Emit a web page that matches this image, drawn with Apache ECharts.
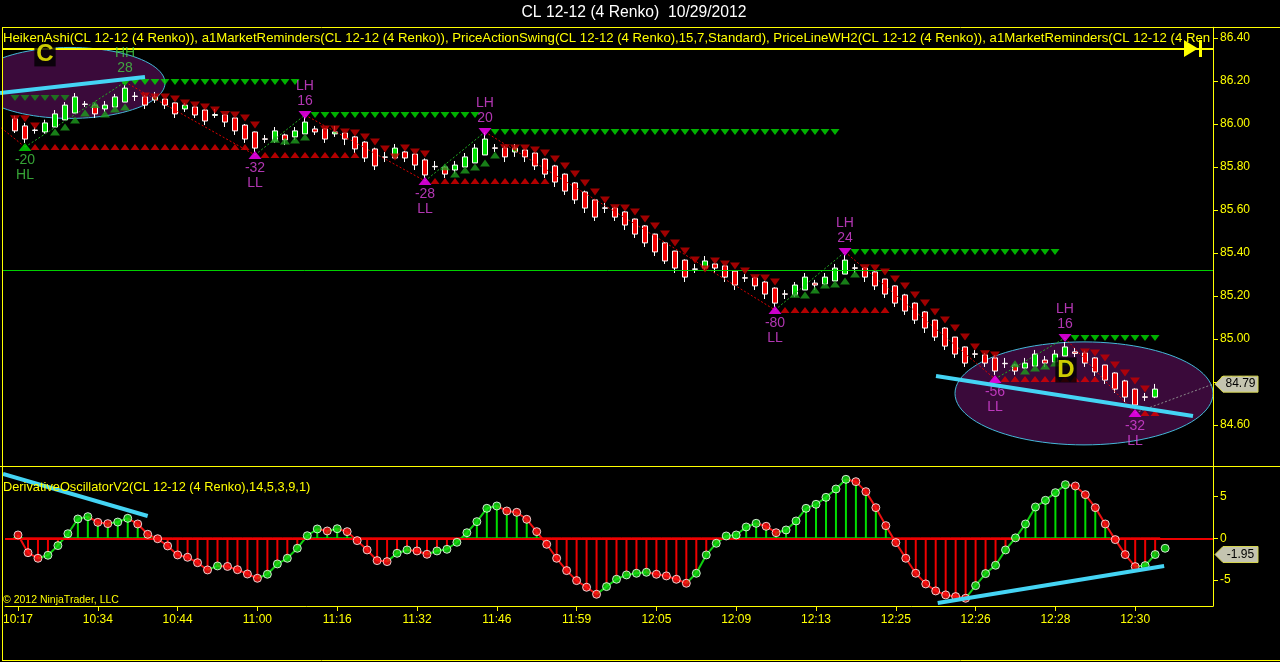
<!DOCTYPE html>
<html><head><meta charset="utf-8">
<script src="https://cdn.jsdelivr.net/npm/echarts@6/dist/echarts.min.js"></script>
<style>html,body{margin:0;padding:0;background:#000;}#c{width:1280px;height:662px;}</style>
</head><body><div id="c"></div>
<script>
// ---------- data ----------
const timeLabels = ['10:17','10:34','10:44','11:00','11:16','11:32','11:46','11:59','12:05','12:09','12:13','12:25','12:26','12:28','12:30'];
const timeTickBars = [0,8,16,24,32,40,48,56,64,72,80,88,96,104,112];
const oscTicks = [-5,0,5];

const haOpen = [86.024,85.991,85.972,85.963,85.986,86.019,86.051,86.093,86.088,86.070,86.079,86.102,86.130,86.126,86.112,86.116,86.098,86.070,86.079,86.065,
86.040,86.042,86.028,85.995,85.963,85.931,85.921,85.949,85.940,85.954,85.977,85.977,85.954,85.958,85.940,85.916,85.884,85.847,85.842,85.870,
85.860,85.833,85.803,85.800,85.786,85.800,85.819,85.856,85.889,85.888,85.870,85.879,85.865,85.837,85.805,85.767,85.726,85.684,85.647,85.610,
85.609,85.591,85.558,85.526,85.488,85.447,85.409,85.367,85.326,85.330,85.349,85.340,85.316,85.285,85.284,85.265,85.237,85.210,85.205,85.228,
85.260,85.256,85.270,85.302,85.331,85.330,85.312,85.279,85.247,85.205,85.167,85.126,85.088,85.051,85.009,84.963,84.931,84.926,84.912,84.887,
84.879,84.865,84.874,84.902,84.893,84.921,84.940,84.935,84.912,84.879,84.842,84.805,84.767,84.731,84.730];
const haClose = [85.968,85.930,85.970,86.005,86.047,86.088,86.126,86.091,86.047,86.088,86.126,86.167,86.128,86.088,86.126,86.088,86.047,86.088,86.042,86.014,
86.044,86.009,85.968,85.930,85.888,85.929,85.968,85.926,85.968,86.009,85.963,85.930,85.963,85.930,85.884,85.842,85.805,85.845,85.888,85.842,
85.809,85.763,85.801,85.767,85.809,85.847,85.888,85.930,85.887,85.847,85.888,85.847,85.805,85.767,85.730,85.688,85.647,85.609,85.567,85.608,
85.567,85.530,85.488,85.447,85.405,85.363,85.330,85.288,85.324,85.363,85.330,85.288,85.251,85.283,85.247,85.209,85.167,85.208,85.251,85.288,
85.251,85.288,85.330,85.367,85.329,85.288,85.247,85.209,85.167,85.130,85.088,85.051,85.009,84.967,84.930,84.888,84.929,84.888,84.851,84.885,
84.851,84.888,84.930,84.888,84.930,84.963,84.933,84.888,84.847,84.809,84.767,84.730,84.693,84.729,84.767];
const haLow = [85.958,85.912,85.955,85.955,85.986,86.019,86.051,86.079,86.028,86.056,86.079,86.102,86.107,86.070,86.098,86.070,86.028,86.056,86.028,85.995,
86.028,85.986,85.949,85.912,85.870,85.912,85.912,85.902,85.926,85.954,85.949,85.912,85.940,85.902,85.865,85.823,85.786,85.823,85.842,85.823,
85.786,85.749,85.786,85.749,85.770,85.800,85.819,85.856,85.870,85.823,85.847,85.823,85.786,85.749,85.707,85.670,85.628,85.586,85.549,85.586,
85.549,85.507,85.470,85.428,85.386,85.349,85.307,85.265,85.307,85.320,85.307,85.265,85.228,85.265,85.228,85.186,85.149,85.186,85.195,85.228,
85.228,85.250,85.270,85.302,85.307,85.265,85.228,85.191,85.149,85.112,85.070,85.028,84.991,84.949,84.912,84.870,84.912,84.870,84.833,84.865,
84.833,84.860,84.874,84.870,84.893,84.921,84.916,84.870,84.828,84.791,84.749,84.707,84.679,84.712,84.725];
const haHigh = [86.038,86.005,85.986,86.020,86.065,86.102,86.144,86.107,86.098,86.107,86.140,86.181,86.149,86.135,86.149,86.120,86.100,86.098,86.085,86.070,
86.070,86.045,86.030,86.000,85.965,85.949,85.986,85.955,85.986,86.033,85.991,85.980,85.991,85.960,85.945,85.920,85.890,85.870,85.907,85.875,
85.865,85.840,85.828,85.805,85.828,85.865,85.907,85.958,85.907,85.898,85.907,85.884,85.870,85.840,85.810,85.770,85.730,85.690,85.650,85.633,
85.615,85.595,85.560,85.530,85.490,85.450,85.410,85.370,85.349,85.386,85.355,85.345,85.320,85.302,85.290,85.270,85.240,85.228,85.265,85.307,
85.275,85.307,85.349,85.391,85.349,85.335,85.315,85.280,85.250,85.210,85.170,85.130,85.090,85.055,85.010,84.965,84.949,84.935,84.926,84.912,
84.885,84.912,84.949,84.921,84.949,84.986,84.958,84.945,84.915,84.880,84.845,84.810,84.770,84.749,84.791];

const oscValues = [0.40,-1.73,-2.40,-2.04,-0.88,0.55,2.32,2.60,1.92,1.76,1.95,2.40,1.72,0.48,-0.05,-0.92,-2.00,-2.28,-2.93,-3.80,
-3.32,-3.38,-3.77,-4.29,-4.80,-4.32,-3.08,-2.40,-1.20,0.31,1.12,0.88,1.15,0.80,-0.28,-1.40,-2.68,-2.80,-1.80,-1.40,
-1.52,-1.92,-1.52,-1.32,-0.48,0.67,2.00,3.60,3.88,3.28,3.12,2.28,0.80,-0.72,-2.40,-3.88,-5.08,-5.88,-6.72,-5.80,
-4.92,-4.40,-4.20,-4.08,-4.32,-4.52,-4.92,-5.40,-4.20,-2.00,-0.60,0.28,0.40,1.36,1.80,1.44,0.67,1.00,2.08,3.60,
4.08,4.92,5.92,7.08,6.80,5.60,3.68,1.52,-0.52,-2.40,-4.20,-5.48,-6.32,-6.80,-7.00,-7.20,-5.68,-4.24,-3.24,-1.40,
0.05,1.72,3.76,4.56,5.48,6.44,6.28,5.24,3.68,1.72,-0.16,-1.96,-3.40,-3.28,-1.95];
const oscExtraBar = [115];
const oscExtraValue = [-1.20];

const lastPrice = 84.79;
const lastOsc = -1.95;
const priceLineLevels = [86.35, 85.32];

// swing points
const swingHighBars = [11,29,47,83,105];
const swingHighPrices = [86.195,86.042,85.963,85.405,85.005];
const swingHighTags = ['HH','LH','LH','LH','LH'];
const swingHighNums = ['28','16','20','24','16'];
const swingLowBars = [1,24,41,76,98,112];
const swingLowPrices = [85.893,85.856,85.735,85.135,84.814,84.656];
const swingLowTags = ['HL','LL','LL','LL','LL','LL'];
const swingLowNums = ['-20','-32','-28','-80','-56','-32'];
const zigzagBars = [-2,1,11,24,29,41,47,76,83,98,105,112];
const zigzagPrices = [86.005,85.893,86.195,85.856,86.042,85.735,85.963,85.135,85.405,84.814,85.005,84.656];
const currentBar = 119.8;

// level rows [fromBar, toBar, price]
const resistanceRows = [[12,28,86.195],[30,46,86.042],[48,82,85.963],[84,104,85.405],[106,114,85.005]];
const supportRows = [[2,23,85.893],[25,34,85.856],[42,53,85.735],[77,87,85.135],[99,108,84.814],[113,114,84.656]];
const oldResistanceRows = [[0,5,86.121]];
// trailing marker bar ranges
const trailDownRanges = [[0,2],[13,24],[31,41],[49,76],[85,98],[107,113]];
const trailUpRanges = [[4,11],[26,29],[43,48],[78,84],[100,105]];

// drawing annotations
const ellipseCenterBar = [5.5,106.9];
const ellipseCenterPrice = [86.191,84.747];
const ellipseRadiusBars = [9.5,12.9];
const ellipseRadiusPrice = [0.165,0.2395];
const priceTrendlines = [[[-1.5,86.144],[13,86.219]],[[92.1,84.828],[117.8,84.642]]];
const oscTrendlines = [[[-1.5,7.72],[13,2.68]],[[92.2,-7.76],[114.9,-3.33]]];
const markerLetters = ['C','D'];
const markerLetterBars = [3,105.1];
const markerLetterPrices = [86.326,84.856];

// ---------- chart ----------
const FONT = 'Liberation Sans';
const YEL = '#ffff00';
const GRID_L = 2, GRID_R = 67;
const xMin = -1.3, xMax = 119.8;

const chart = echarts.init(document.getElementById('c'));

const candleData = haOpen.map((o,i)=>[i,o,haClose[i],haLow[i],haHigh[i]]);
function rowPoints(rows){const pts=[];rows.forEach(([a,b,p])=>{for(let i=a;i<=b;i++)pts.push([i,p]);});return pts;}
const topOf = i => Math.max(haOpen[i],haClose[i]);
const botOf = i => Math.min(haOpen[i],haClose[i]);
function trail(ranges, fn){const pts=[];ranges.forEach(([a,b])=>{for(let i=a;i<=b;i++)pts.push([i,fn(Math.max(i-1,0))]);});return pts;}

const zigLines = [];
for(let k=0;k<zigzagBars.length-1;k++){
  const up = zigzagPrices[k+1]>zigzagPrices[k];
  zigLines.push({coords:[[zigzagBars[k],zigzagPrices[k]],[zigzagBars[k+1],zigzagPrices[k+1]]],lineStyle:{color: up?'#22b022':'#dd0000'}});
}
zigLines.push({coords:[[zigzagBars[zigzagBars.length-1],zigzagPrices[zigzagPrices.length-1]],[currentBar,lastPrice]],lineStyle:{color:'#8a8a8a'}});

const highMarks = swingHighBars.map((b,i)=>({value:[b,swingHighPrices[i]],tag:swingHighTags[i],num:swingHighNums[i],
  itemStyle:{color: swingHighTags[i]==='HH'?'#00dd00':'#ff00ff'},
  label:{color: swingHighTags[i]==='HH'?'#44cc44':'#dd44dd'}}));
const lowMarks = swingLowBars.map((b,i)=>({value:[b,swingLowPrices[i]],tag:swingLowTags[i],num:swingLowNums[i],
  itemStyle:{color: swingLowTags[i]==='HL'?'#00dd00':'#ff00ff'},
  label:{color: swingLowTags[i]==='HL'?'#44cc44':'#dd44dd'}}));

const ellipseData = ellipseCenterBar.map((b,i)=>[b,ellipseCenterPrice[i],ellipseRadiusBars[i],ellipseRadiusPrice[i]]);

const oscStemData = oscValues.map((v,i)=>[i,v]);
const oscSegData = oscValues.map((v,i)=>[i,v,i>0?oscValues[i-1]:v]).slice(1);
const oscDotData = oscValues.map((v,i)=>({value:[i,v],itemStyle:{color:(i===0||v<oscValues[i-1])?'#ff1010':'#10e010'}}));
oscExtraBar.forEach((b,k)=>oscDotData.push({value:[b,oscExtraValue[k]],itemStyle:{color:'#10e010'}}));

const txt = (id,x,y,text,size,color,align,weight)=>({type:'text',id,x,y,z:50,silent:true,
  style:{text,fill:color,font:(weight||'normal')+' '+size+'px "'+FONT+'"',align:align||'left',verticalAlign:'middle'}});
const hline = (id,x1,x2,y,color,w)=>({type:'line',id,z:40,silent:true,shape:{x1,y1:y,x2,y2:y},style:{stroke:color,lineWidth:w||1}});
const vline = (id,x,y1,y2,color,w)=>({type:'line',id,z:40,silent:true,shape:{x1:x,y1,x2:x,y2},style:{stroke:color,lineWidth:w||1}});

const option = {
  backgroundColor:'#000',
  animation:false,
  textStyle:{fontFamily:FONT},
  grid:[
    {left:GRID_L,right:GRID_R,top:27.25,height:440.75},
    {left:GRID_L,right:GRID_R,top:467,height:139}
  ],
  xAxis:[
    {type:'value',gridIndex:0,min:xMin,max:xMax,show:false},
    {type:'value',gridIndex:1,min:xMin,max:xMax,
     axisLine:{show:true,onZero:false,lineStyle:{color:YEL,width:1}},
     axisTick:{show:true,inside:false,length:5,lineStyle:{color:YEL},customValues:timeTickBars},
     axisLabel:{show:true,color:YEL,fontSize:12,fontFamily:FONT,margin:8,customValues:timeTickBars,
       formatter:v=>{const k=timeTickBars.indexOf(Math.round(v));return k>=0?timeLabels[k]:'';}},
     splitLine:{show:false}}
  ],
  yAxis:[
    {type:'value',gridIndex:0,position:'right',min:84.4,max:86.45,interval:0.2,
     axisLine:{show:true,onZero:false,lineStyle:{color:YEL}},
     axisTick:{show:true,inside:false,length:5,lineStyle:{color:YEL}},
     axisLabel:{color:YEL,fontSize:12,fontFamily:FONT,margin:7,showMinLabel:false,showMaxLabel:false,formatter:v=>v.toFixed(2)},
     splitLine:{show:false}},
    {type:'value',gridIndex:1,position:'right',min:-8.13,max:8.56,
     axisLine:{show:true,onZero:false,lineStyle:{color:YEL}},
     axisTick:{show:true,inside:false,length:5,lineStyle:{color:YEL},customValues:oscTicks},
     axisLabel:{color:YEL,fontSize:12,fontFamily:FONT,margin:7,customValues:oscTicks,formatter:v=>String(Math.round(v))},
     splitLine:{show:false}}
  ],
  series:[
    {name:'ellipses',type:'custom',xAxisIndex:0,yAxisIndex:0,z:1,clip:true,silent:true,
     data:ellipseData,encode:{x:0,y:1},
     renderItem:(params,api)=>{
       const c=api.coord([api.value(0),api.value(1)]);
       const s=api.size([api.value(2),api.value(3)]);
       const pts=[];for(let k=0;k<96;k++){const t=k/96*Math.PI*2;pts.push([c[0]+s[0]*Math.cos(t),c[1]+s[1]*Math.sin(t)]);}
       return {type:'polygon',shape:{points:pts},style:{fill:'#3a0a3a',stroke:'#45b8d8',lineWidth:1}};
     }},
    {name:'priceLines',type:'line',xAxisIndex:0,yAxisIndex:0,z:2,data:[],silent:true,
     markLine:{silent:true,symbol:'none',label:{show:false},animation:false,
       data:[{yAxis:priceLineLevels[0],lineStyle:{color:YEL,width:2,type:'solid'}},
             {yAxis:priceLineLevels[1],lineStyle:{color:'#00d000',width:1,type:'solid'}}]}},
    {name:'HeikenAshi',type:'candlestick',xAxisIndex:0,yAxisIndex:0,z:3,barWidth:6,silent:true,
     data:candleData,
     itemStyle:{color:'#00e000',color0:'#f00000',borderColor:'#ffffff',borderColor0:'#ffffff',borderWidth:1}},
    {name:'zigzag',type:'lines',coordinateSystem:'cartesian2d',xAxisIndex:0,yAxisIndex:0,z:4,silent:true,
     polyline:false,lineStyle:{width:1,type:[2,2],opacity:1},data:zigLines},
    {name:'oldRes',type:'scatter',xAxisIndex:0,yAxisIndex:0,z:5,silent:true,symbol:'triangle',symbolRotate:180,symbolSize:[9,6],
     itemStyle:{color:'#1a8a1a'},data:rowPoints(oldResistanceRows)},
    {name:'trailDown',type:'scatter',xAxisIndex:0,yAxisIndex:0,z:5,silent:true,symbol:'triangle',symbolRotate:180,symbolSize:[10,7],
     itemStyle:{color:'#c80000'},data:trail(trailDownRanges,topOf)},
    {name:'trailUp',type:'scatter',xAxisIndex:0,yAxisIndex:0,z:5,silent:true,symbol:'triangle',symbolSize:[10,7],
     itemStyle:{color:'#1e9e1e'},data:trail(trailUpRanges,botOf)},
    {name:'resRows',type:'scatter',xAxisIndex:0,yAxisIndex:0,z:5,silent:true,symbol:'triangle',symbolRotate:180,symbolSize:[9,6],
     itemStyle:{color:'#00dd00'},data:rowPoints(resistanceRows)},
    {name:'supRows',type:'scatter',xAxisIndex:0,yAxisIndex:0,z:5,silent:true,symbol:'triangle',symbolSize:[9,6],
     itemStyle:{color:'#e00000'},data:rowPoints(supportRows)},
    {name:'swingHighs',type:'scatter',xAxisIndex:0,yAxisIndex:0,z:6,silent:true,symbol:'triangle',symbolRotate:180,symbolSize:[13,8],
     data:highMarks,
     label:{show:true,position:'top',distance:2,fontSize:14,lineHeight:15,fontFamily:FONT,formatter:p=>p.data.tag+'\n'+p.data.num}},
    {name:'swingLows',type:'scatter',xAxisIndex:0,yAxisIndex:0,z:6,silent:true,symbol:'triangle',symbolSize:[13,8],
     data:lowMarks,
     label:{show:true,position:'bottom',distance:2,fontSize:14,lineHeight:15,fontFamily:FONT,formatter:p=>p.data.num+'\n'+p.data.tag}},
    {name:'trendTop',type:'lines',coordinateSystem:'cartesian2d',xAxisIndex:0,yAxisIndex:0,z:8,silent:true,
     lineStyle:{width:4,color:'#44d4f4',opacity:1},data:priceTrendlines.map(c=>({coords:c}))},
    {name:'letters',type:'scatter',xAxisIndex:0,yAxisIndex:0,z:9,silent:true,symbolSize:0,
     data:markerLetters.map((t,i)=>({name:t,value:[markerLetterBars[i],markerLetterPrices[i]]})),
     label:{show:true,position:'inside',formatter:p=>p.name,color:YEL,fontSize:24,fontWeight:'bold',fontFamily:FONT,
       backgroundColor:'#000',padding:[1,2,0,2]}},
    // oscillator
    {name:'oscStems',type:'custom',xAxisIndex:1,yAxisIndex:1,z:3,silent:true,clip:true,
     data:oscStemData,encode:{x:0,y:1},
     markLine:{silent:true,symbol:'none',label:{show:false},data:[{yAxis:0,lineStyle:{color:'#ee0000',width:2,type:'solid'}}]},
     renderItem:(params,api)=>{
       const x=api.value(0),v=api.value(1);
       const p0=api.coord([x,0]),p1=api.coord([x,v]);
       const col=v>=0?'#00dd00':'#ee0000';
       return {type:'group',children:[
         {type:'line',shape:{x1:p0[0]-5,y1:p0[1],x2:p0[0]+5,y2:p0[1]},style:{stroke:col,lineWidth:2}},
         {type:'line',shape:{x1:p0[0],y1:p0[1],x2:p1[0],y2:p1[1]},style:{stroke:col,lineWidth:2}}
       ]};
     }},
    {name:'oscLine',type:'custom',xAxisIndex:1,yAxisIndex:1,z:4,silent:true,clip:true,
     data:oscSegData,encode:{x:0,y:1},
     renderItem:(params,api)=>{
       const x=api.value(0),v=api.value(1),pv=api.value(2);
       const a=api.coord([x-1,pv]),b=api.coord([x,v]);
       return {type:'line',shape:{x1:a[0],y1:a[1],x2:b[0],y2:b[1]},style:{stroke:v<pv?'#ee1010':'#10d010',lineWidth:2}};
     }},
    {name:'oscDots',type:'scatter',xAxisIndex:1,yAxisIndex:1,z:5,silent:true,symbol:'circle',symbolSize:8,
     itemStyle:{borderColor:'#ffffff',borderWidth:1},data:oscDotData},
    {name:'trendOsc',type:'lines',coordinateSystem:'cartesian2d',xAxisIndex:1,yAxisIndex:1,z:8,silent:true,
     lineStyle:{width:4,color:'#44d4f4',opacity:1},data:oscTrendlines.map(c=>({coords:c}))}
  ],
  graphic:[
    txt('title',634,13,'CL 12-12 (4 Renko)  10/29/2012',15.7,'#ffffff','center'),
    {type:'text',id:'indLabel',x:3,y:38,z:50,silent:true,
     style:{text:'HeikenAshi(CL 12-12 (4 Renko)), a1MarketReminders(CL 12-12 (4 Renko)), PriceActionSwing(CL 12-12 (4 Renko),15,7,Standard), PriceLineWH2(CL 12-12 (4 Renko)), a1MarketReminders(CL 12-12 (4 Renko))',
       fill:YEL,font:'13.2px "'+FONT+'"',verticalAlign:'middle',width:1209,overflow:'truncate',ellipsis:''}},
    txt('oscLabel',3,487,'DerivativeOscillatorV2(CL 12-12 (4 Renko),14,5,3,9,1)',12.8,YEL),
    txt('copy',3,600,'© 2012 NinjaTrader, LLC',10.5,YEL),
    {type:'polygon',id:'arrowTri',z:51,silent:true,shape:{points:[[1184,40],[1184,57],[1198,48.5]]},style:{fill:YEL}},
    {type:'rect',id:'arrowBar',z:51,silent:true,shape:{x:1199,y:40,width:3,height:17},style:{fill:YEL}},
    hline('topBorder',2,1280,27.5,YEL,1),
    hline('midBorder',0,1280,466.5,YEL,1),
    hline('botBorder',2,1280,660.5,YEL,1),
    vline('leftBorder',2.5,27,661,YEL,1)
  ]
};
chart.setOption(option);

// last value tags placed through the axes
function tag(id,y,text){
  return [
    {type:'polygon',id:id+'P',z:60,silent:true,shape:{points:[[1215,y],[1223,y-8],[1258,y-8],[1258,y+8],[1223,y+8]]},
     style:{fill:'#c4c4b0',stroke:'#d8d850',lineWidth:1}},
    {type:'text',id:id+'T',z:61,silent:true,x:1240.5,y:y,style:{text,fill:'#000',font:'12px "'+FONT+'"',align:'center',verticalAlign:'middle'}}
  ];
}
const yP = chart.convertToPixel({yAxisIndex:0}, lastPrice);
const yO = chart.convertToPixel({yAxisIndex:1}, lastOsc);
chart.setOption({graphic:[...tag('tagP',yP,lastPrice.toFixed(2)),...tag('tagO',yO,lastOsc.toFixed(2))]});
</script>
</body></html>
